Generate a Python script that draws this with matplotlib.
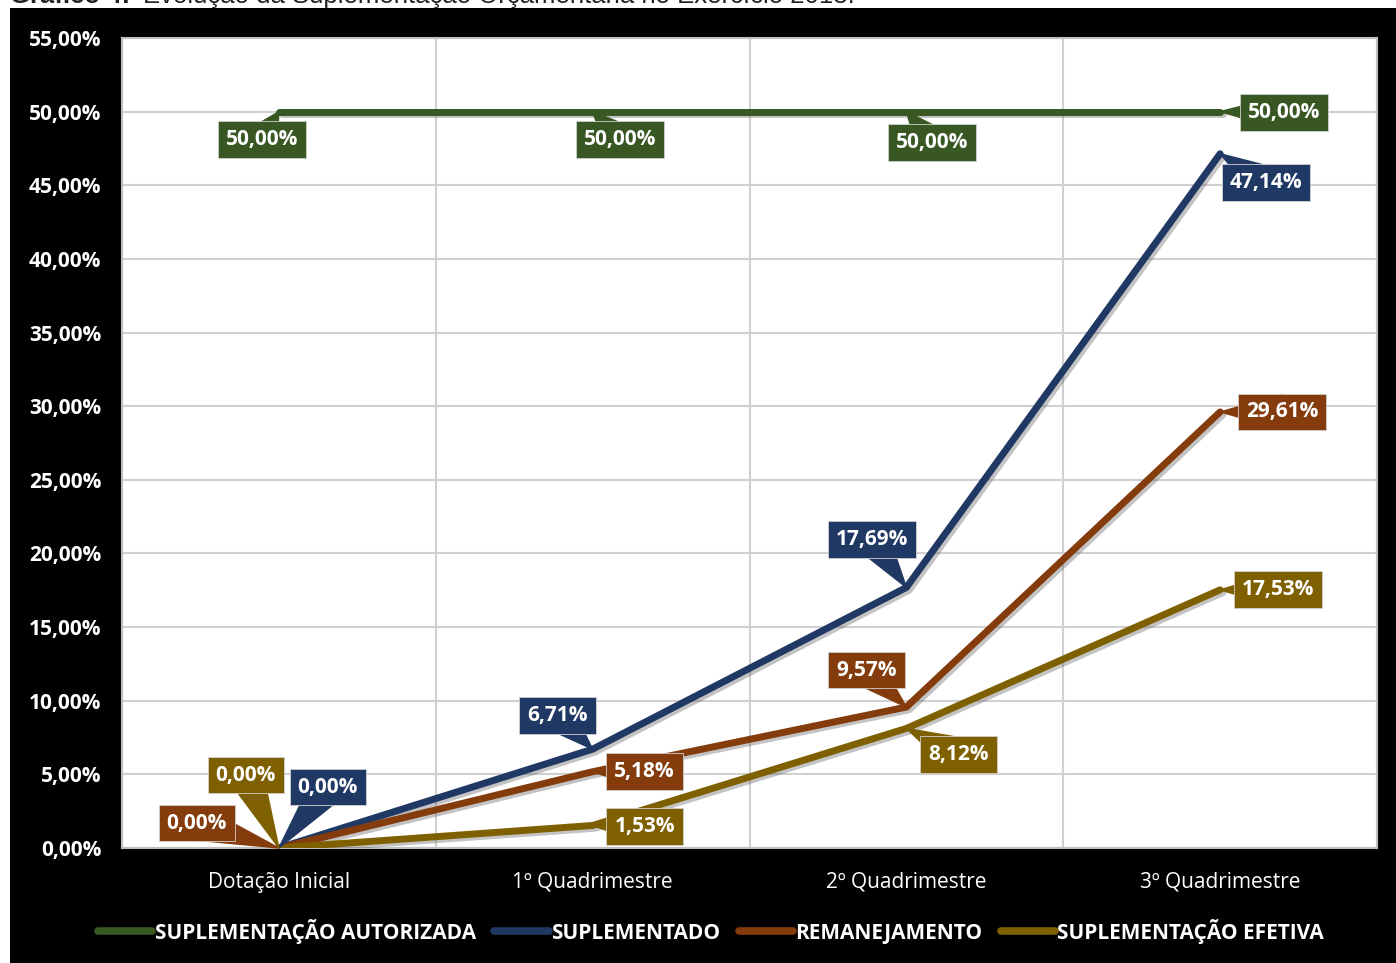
import matplotlib
matplotlib.use("Agg")
import matplotlib.pyplot as plt
import matplotlib.patheffects as pe
from matplotlib.lines import Line2D
from matplotlib.patches import Rectangle
import numpy as np

categories = ["Dotação Inicial", "1º Quadrimestre", "2º Quadrimestre", "3º Quadrimestre"]
series_names = ["SUPLEMENTAÇÃO AUTORIZADA", "SUPLEMENTADO", "REMANEJAMENTO", "SUPLEMENTAÇÃO EFETIVA"]
autorizada = [50.00, 50.00, 50.00, 50.00]
suplementado = [0.00, 6.71, 17.69, 47.14]
remanejamento = [0.00, 5.18, 9.57, 29.61]
efetiva = [0.00, 1.53, 8.12, 17.53]

colors = ["#385723", "#203864", "#843c0c", "#7f6000"]

# label offsets in pixels (box centre relative to the point)
label_offsets = [
    [(-17, -28), (27, -28), (26, -31), (64, -1)],
    [(49, 61), (-35, 34), (-34, 48), (46, -29)],
    [(-82, 25), (52, 0), (-40, 37), (62, 0)],
    [(-33, 73), (52, -1), (52, -26), (58, 0)],
]

W, H = 1396, 963
fig = plt.figure(figsize=(W / 100, H / 100), dpi=100, facecolor="white")
fig.patches.append(Rectangle((10 / W, 0), 1, (H - 8) / H, transform=fig.transFigure,
                             facecolor="black", edgecolor="none", zorder=-10))

# title cut off at the top of the page
fig.text(10 / W, 1 - 3 / H, "Gráfico 4:", fontsize=18.5, fontweight="bold",
         family="Liberation Sans", color="#222222", va="baseline", ha="left", zorder=-1)
fig.text(143 / W, 1 - 3 / H, "Evolução da Suplementação Orçamentária no Exercício 2018.",
         fontsize=18.5, family="Liberation Sans", color="#222222", va="baseline", ha="left", zorder=-1)

ax = fig.add_axes([122 / W, (H - 848) / H, (1377 - 122) / W, (848 - 38) / H])
ax.set_facecolor("white")

x = np.arange(len(categories))
all_series = [autorizada, suplementado, remanejamento, efetiva]

for vals, c in zip(all_series, colors):
    ax.plot(x, vals, color=c, lw=5, solid_joinstyle="round", solid_capstyle="round", zorder=3,
            path_effects=[pe.SimpleLineShadow(offset=(2, -2), alpha=0.35, shadow_color="#555555"),
                          pe.Normal()])

for vals, c, offs in zip(all_series, colors, label_offsets):
    for xi, v, (dx, dy) in zip(x, vals, offs):
        ax.annotate(f"{v:.2f}%".replace(".", ","), xy=(xi, v), xytext=(dx, dy),
                    textcoords="offset pixels", ha="center", va="center",
                    fontsize=15, fontweight="bold", family="Open Sans", color="white",
                    bbox=dict(boxstyle="square,pad=0.38", fc=c, ec="#d0d0d0", lw=0.6),
                    arrowprops=dict(arrowstyle="wedge,tail_width=1.8,shrink_factor=0.5",
                                    fc=c, ec=c, patchA=None, shrinkA=0, shrinkB=0,
                                    mutation_scale=14),
                    zorder=5, annotation_clip=False)

ax.set_xlim(-0.5, 3.5)
ax.set_ylim(0, 55)
ax.set_yticks(np.arange(0, 56, 5))
ax.set_yticklabels([f"{t:.2f}%".replace(".", ",") for t in np.arange(0, 56, 5)],
                   fontsize=15, fontweight="bold", family="Open Sans", color="white")
ax.set_xticks(x)
ax.set_xticklabels(categories, fontsize=15, family="Open Sans", color="white")
ax.set_xticks(np.arange(-0.5, 3.6, 0.5), minor=True)
ax.tick_params(axis="both", which="both", length=0)
ax.tick_params(axis="y", pad=15)
ax.tick_params(axis="x", pad=17)
ax.grid(True, which="minor", axis="x", color="#d0d0d0", lw=1.5, zorder=1)
ax.grid(True, which="major", axis="y", color="#d0d0d0", lw=1.5, zorder=1)
ax.set_axisbelow(True)
for s in ax.spines.values():
    s.set_color("#bfbfbf")
    s.set_linewidth(1.5)

handles = [Line2D([0], [0], color=c, lw=5.5, solid_capstyle="round") for c in colors]
leg = fig.legend(handles, series_names, loc="center", bbox_to_anchor=(711 / W, 1 - 931 / H),
                 ncol=4, frameon=False, handlelength=2.6, handletextpad=0.1, columnspacing=0.9,
                 prop=dict(family="Open Sans", weight="bold", size=15))
for t in leg.get_texts():
    t.set_color("white")

fig.savefig("out.png", dpi=100, facecolor="white")
